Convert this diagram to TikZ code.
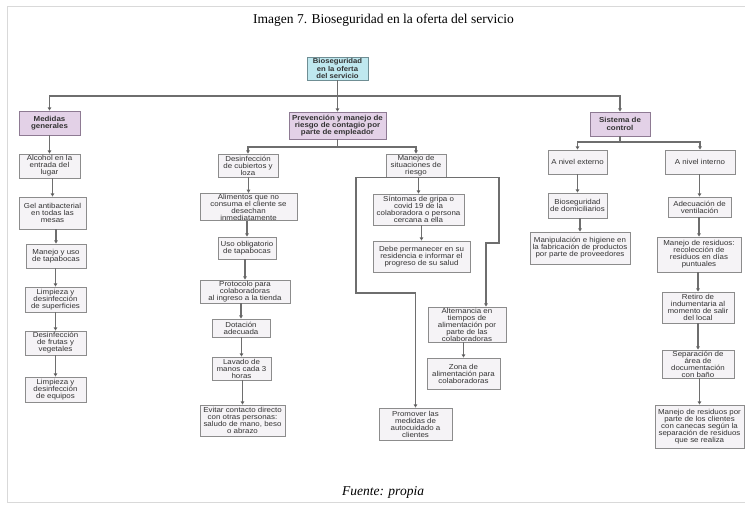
\documentclass[tikz,border=0pt]{standalone}
\usepackage{fontspec}
\setmainfont{Liberation Serif}
\newfontfamily\boxfont[FakeStretch=1.1]{Liberation Sans}
\usetikzlibrary{arrows.meta}

\definecolor{framegray}{HTML}{D9D9D9}
\definecolor{linegray}{HTML}{6E6E6E}
\definecolor{boxfill}{HTML}{F5F3F6}
\definecolor{boxline}{HTML}{8C8C8C}
\definecolor{headfill}{HTML}{E3D1E7}
\definecolor{headline}{HTML}{8E7A93}
\definecolor{rootfill}{HTML}{BFE8EF}
\definecolor{rootline}{HTML}{6F8E94}

\tikzset{
  x=1pt, y=-1pt,
  leaf/.style={draw=boxline, fill=boxfill, line width=0.9pt, align=center,
    inner sep=0.5pt, font=\boxfont\fontsize{7.2}{7.0}\selectfont, text=black!80},
  headbox/.style={leaf, draw=headline, fill=headfill, font=\boxfont\bfseries\fontsize{7.2}{7.3}\selectfont},
  rootbox/.style={leaf, draw=rootline, fill=rootfill, font=\boxfont\bfseries\fontsize{7.0}{7.3}\selectfont},
  wire/.style={draw=linegray, line width=1.1pt},
  arr/.style={wire, -{Triangle[length=3.2pt,width=3.6pt,fill=black]}},
}

\newcommand{\bx}[6]{% style, name, cx, cy, w, h, text follows
  \node[#1, minimum width=#5pt, minimum height=#6pt] (#2) at (#3,#4)}

\begin{document}
\begin{tikzpicture}
\useasboundingbox (0,0) rectangle (745,504);

% frame of the figure
\draw[framegray, line width=1pt] (745,6) -- (7.5,6) -- (7.5,502) -- (745,502);

% caption and source
\node (title) at (383.5,20) {\fontsize{13.5}{15}\selectfont Imagen 7. Bioseguridad en la oferta del servicio};
\node (source) at (383,492) {\fontsize{13.5}{15}\selectfont\itshape Fuente: propia};

% root
\bx{rootbox}{root}{337.5}{68.5}{61}{23}{Bioseguridad\\en la oferta\\del servicio};

% first level
\bx{headbox}{med}{49.5}{123}{61}{24}{Medidas\\generales};
\bx{headbox}{prev}{337.5}{125.5}{97}{27}{Prevención y manejo de\\riesgo de contagio por\\parte de empleador};
\bx{headbox}{sis}{620}{124}{60}{24}{Sistema de\\control};

% general measures
\bx{leaf}{alc}{49.5}{166}{61}{24}{Alcohol en la\\entrada del\\lugar};
\bx{leaf}{gel}{52.5}{213}{67}{32}{Gel antibacterial\\en todas las\\mesas};
\bx{leaf}{man}{56}{256}{60}{24}{Manejo y uso\\de tapabocas};
\bx{leaf}{limS}{55.5}{299.5}{61}{25}{Limpieza y\\desinfección\\de superficies};
\bx{leaf}{des}{55.5}{343}{61}{24}{Desinfección\\de frutas y\\vegetales};
\bx{leaf}{limE}{55.5}{389.5}{61}{25}{Limpieza y\\desinfección\\de equipos};

% prevention by staff
\bx{leaf}{cub}{248}{165.5}{60}{23}{Desinfección\\de cubiertos y\\loza};
\bx{leaf}{ali}{248.5}{207}{97}{27}{Alimentos que no\\consuma el cliente se\\desechan\\inmediatamente};
\bx{leaf}{uso}{247}{248}{58}{22}{Uso obligatorio\\de tapabocas};
\bx{leaf}{pro}{245}{291.5}{90}{23}{Protocolo para\\colaboradoras\\al ingreso a la tienda};
\bx{leaf}{dot}{241}{328}{58}{18}{Dotación\\adecuada};
\bx{leaf}{lav}{241.5}{368.5}{59}{23}{Lavado de\\manos cada 3\\horas};
\bx{leaf}{evi}{242.5}{420.5}{85}{31}{Evitar contacto directo\\con otras personas:\\saludo de mano, beso\\o abrazo};

% risk situations
\bx{leaf}{mns}{416}{165.5}{60}{23}{Manejo de\\situaciones de\\riesgo};
\bx{leaf}{sin}{418.5}{209.5}{91}{31}{Síntomas de gripa o\\covid 19 de la\\colaboradora o persona\\cercana a ella};
\bx{leaf}{deb}{421.5}{256.5}{97}{31}{Debe permanecer en su\\residencia e informar el\\progreso de su salud};
\bx{leaf}{alt}{467}{324.5}{78}{35}{Alternancia en\\tiempos de\\alimentación por\\parte de las\\colaboradoras};
\bx{leaf}{zon}{463.5}{373.5}{73}{31}{Zona de\\alimentación para\\colaboradoras};
\bx{leaf}{prom}{415.5}{424}{73}{32}{Promover las\\medidas de\\autocuidado a\\clientes};

% control system
\bx{leaf}{ext}{577.5}{162}{59}{24}{A nivel externo};
\bx{leaf}{int}{700}{162}{70}{24}{A nivel interno};
\bx{leaf}{bio}{577.5}{205.5}{59}{25}{Bioseguridad\\de domiciliarios};
\bx{leaf}{manip}{580}{248}{100}{32}{Manipulación e higiene en\\la fabricación de productos\\por parte de proveedores};
\bx{leaf}{ade}{699.5}{207}{63}{20}{Adecuación de\\ventilación};
\bx{leaf}{res}{699}{254.5}{84}{35}{Manejo de residuos:\\recolección de\\residuos en días\\puntuales};
\bx{leaf}{ret}{698}{307.5}{72}{31}{Retiro de\\indumentaria al\\momento de salir\\del local};
\bx{leaf}{sep}{698}{364}{72}{28}{Separación de\\área de\\documentación\\con baño};
\bx{leaf}{resc}{699.5}{426.5}{89}{43}{Manejo de residuos por\\parte de los clientes\\con canecas según la\\separación de residuos\\que se realiza};

% junction points of the buses
\coordinate (b0) at (337.5,96);
\coordinate (b1) at (337.5,147);
\coordinate (b2) at (620,142);
\coordinate (jl) at (356,293);
\coordinate (jr) at (499,243);
\coordinate (ja) at (486,243);

% top bus
\draw[wire] (root.south) -- (b0);
\draw[arr] (b0) -| (med.north);
\draw[arr] (b0) -| (sis.north);
\draw[arr] (b0) -- (prev.north);

% general measures chain
\draw[arr] (med.south) -- (alc.north);
\draw[arr] (gel.north |- alc.south) -- (gel.north);
\draw[arr] (man.north |- gel.south) -- (man.north);
\draw[arr] (limS.north |- man.south) -- (limS.north);
\draw[arr] (des.north |- limS.south) -- (des.north);
\draw[arr] (limE.north |- des.south) -- (limE.north);

% prevention bus
\draw[wire] (prev.south) -- (b1);
\draw[arr] (b1) -| (cub.north);
\draw[arr] (b1) -| (mns.north);

\draw[arr] (ali.north |- cub.south) -- (ali.north);
\draw[arr] (uso.north |- ali.south) -- (uso.north);
\draw[arr] (pro.north |- uso.south) -- (pro.north);
\draw[arr] (dot.north |- pro.south) -- (dot.north);
\draw[arr] (lav.north |- dot.south) -- (lav.north);
\draw[arr] (evi.north |- lav.south) -- (evi.north);

% risk situations branches
\draw[arr] (sin.north |- mns.south) -- (sin.north);
\draw[arr] (deb.north |- sin.south) -- (deb.north);
\draw[arr] (mns.south) -| (jl) -| (prom.north);
\draw[arr] (mns.south) -| (jr) -- (ja) -- (ja |- alt.north);
\draw[arr] (zon.north |- alt.south) -- (zon.north);

% control system bus
\draw[wire] (sis.south) -- (b2);
\draw[arr] (b2) -| (ext.north);
\draw[arr] (b2) -| (int.north);

\draw[arr] (bio.north |- ext.south) -- (bio.north);
\draw[arr] (manip.north |- bio.south) -- (manip.north);
\draw[arr] (ade.north |- int.south) -- (ade.north);
\draw[arr] (res.north |- ade.south) -- (res.north);
\draw[arr] (ret.north |- res.south) -- (ret.north);
\draw[arr] (sep.north |- ret.south) -- (sep.north);
\draw[arr] (resc.north |- sep.south) -- (resc.north);
\end{tikzpicture}
\end{document}
